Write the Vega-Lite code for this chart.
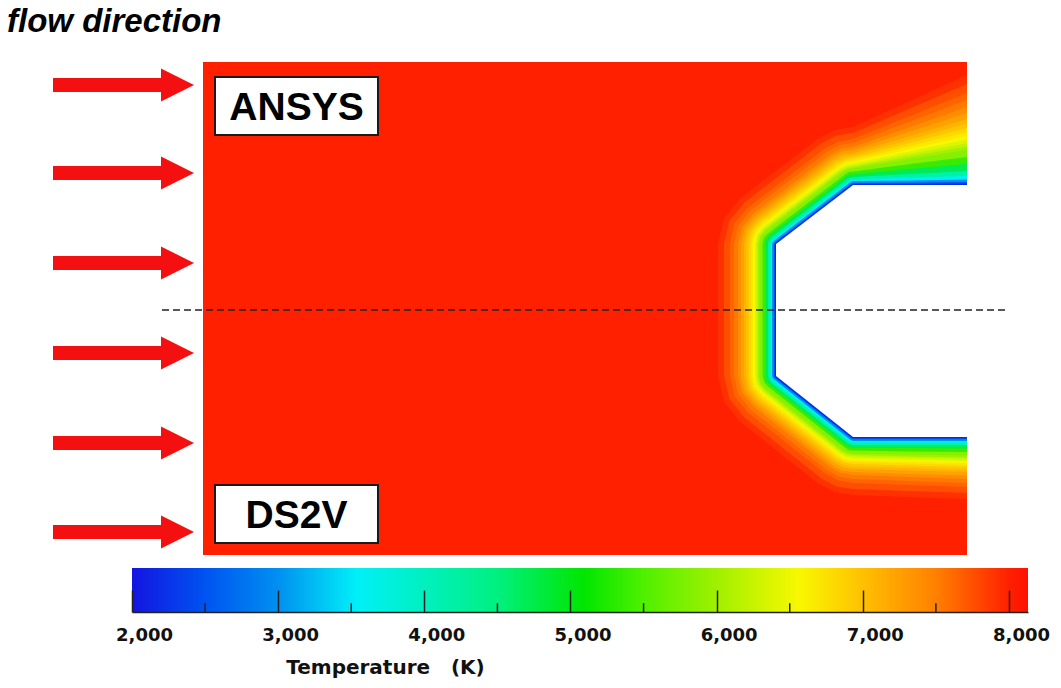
{
  "$schema": "https://vega.github.io/schema/vega-lite/v6.json",
  "width": 764,
  "height": 493,
  "autosize": {"type": "none"},
  "padding": {"left": 203, "top": 62, "right": 94, "bottom": 133},
  "background": "white",
  "config": {"view": {"stroke": null}},
  "resolve": {"scale": {"x": "independent", "y": "independent"}, "axis": {"x": "independent", "y": "independent"}},
  "layer": [
    {
      "layer": [
        {
          "data": {"values": [{"T": 8000}]},
          "mark": {"type": "rect"},
          "encoding": {
            "x": {"datum": 0, "type": "quantitative", "scale": {"domain": [0, 152.8], "nice": false, "zero": false}, "axis": null},
            "x2": {"datum": 152.8},
            "y": {"datum": -49, "type": "quantitative", "scale": {"domain": [-49, 49.6], "nice": false, "zero": false}, "axis": null},
            "y2": {"datum": 49.6},
            "color": {
              "field": "T", "type": "quantitative", "legend": null,
              "scale": {
                "domain": [2000, 2470, 3000, 3540, 4000, 4500, 5090, 5500, 6000, 6560, 7000, 7500, 8000, 8130],
                "range": ["#1414e0", "#0050f0", "#0090f0", "#00f0f8", "#00f0c0", "#00f080", "#00e600", "#50f000", "#a0f000", "#f8f800", "#ffc000", "#ff8000", "#ff2000", "#ff1000"]
              }
            }
          }
        },
        {
          "data": {"values": [
            {"T":7950,"x":152.8,"y":47},{"T":7950,"x":141.4,"y":41.8},{"T":7950,"x":130,"y":36.6},{"T":7950,"x":126.3,"y":36.0},{"T":7950,"x":122.9,"y":34.2},{"T":7950,"x":107.5,"y":22.4},{"T":7950,"x":104.2,"y":18.3},{"T":7950,"x":103,"y":13.2},{"T":7950,"x":103,"y":-13.2},{"T":7950,"x":104.2,"y":-18.3},{"T":7950,"x":107.5,"y":-22.4},{"T":7950,"x":122.9,"y":-34.6},{"T":7950,"x":126.3,"y":-36.4},{"T":7950,"x":130,"y":-37},{"T":7950,"x":141.4,"y":-37.4},{"T":7950,"x":152.8,"y":-37.8},
            {"T":7825,"x":152.8,"y":45.2},{"T":7825,"x":141.4,"y":40.3},{"T":7825,"x":130,"y":35.4},{"T":7825,"x":126.7,"y":34.9},{"T":7825,"x":123.7,"y":33.3},{"T":7825,"x":108.3,"y":21.5},{"T":7825,"x":105.3,"y":17.8},{"T":7825,"x":104.2,"y":13.2},{"T":7825,"x":104.2,"y":-13.2},{"T":7825,"x":105.3,"y":-17.8},{"T":7825,"x":108.3,"y":-21.5},{"T":7825,"x":123.7,"y":-33.7},{"T":7825,"x":126.7,"y":-35.3},{"T":7825,"x":130,"y":-35.8},{"T":7825,"x":141.4,"y":-36.2},{"T":7825,"x":152.8,"y":-36.6},
            {"T":7700,"x":152.8,"y":43.4},{"T":7700,"x":141.4,"y":38.8},{"T":7700,"x":130,"y":34.2},{"T":7700,"x":127.1,"y":33.7},{"T":7700,"x":124.4,"y":32.3},{"T":7700,"x":109.0,"y":20.5},{"T":7700,"x":106.3,"y":17.3},{"T":7700,"x":105.4,"y":13.2},{"T":7700,"x":105.4,"y":-13.2},{"T":7700,"x":106.3,"y":-17.3},{"T":7700,"x":109.0,"y":-20.5},{"T":7700,"x":124.4,"y":-32.7},{"T":7700,"x":127.1,"y":-34.1},{"T":7700,"x":130,"y":-34.6},{"T":7700,"x":141.4,"y":-35.0},{"T":7700,"x":152.8,"y":-35.4},
            {"T":7550,"x":152.8,"y":42.0},{"T":7550,"x":141.4,"y":37.7},{"T":7550,"x":130,"y":33.4},{"T":7550,"x":127.4,"y":33.0},{"T":7550,"x":124.9,"y":31.7},{"T":7550,"x":109.5,"y":19.9},{"T":7550,"x":107.1,"y":16.9},{"T":7550,"x":106.2,"y":13.2},{"T":7550,"x":106.2,"y":-13.2},{"T":7550,"x":107.1,"y":-16.9},{"T":7550,"x":109.5,"y":-19.9},{"T":7550,"x":124.9,"y":-32.1},{"T":7550,"x":127.4,"y":-33.4},{"T":7550,"x":130,"y":-33.8},{"T":7550,"x":141.4,"y":-34.2},{"T":7550,"x":152.8,"y":-34.6},
            {"T":7400,"x":152.8,"y":40.6},{"T":7400,"x":141.4,"y":36.6},{"T":7400,"x":130,"y":32.6},{"T":7400,"x":127.6,"y":32.2},{"T":7400,"x":125.4,"y":31.0},{"T":7400,"x":110.0,"y":19.2},{"T":7400,"x":107.8,"y":16.5},{"T":7400,"x":107.0,"y":13.2},{"T":7400,"x":107.0,"y":-13.2},{"T":7400,"x":107.8,"y":-16.5},{"T":7400,"x":110.0,"y":-19.2},{"T":7400,"x":125.4,"y":-31.4},{"T":7400,"x":127.6,"y":-32.6},{"T":7400,"x":130,"y":-33.0},{"T":7400,"x":141.4,"y":-33.4},{"T":7400,"x":152.8,"y":-33.8},
            {"T":7250,"x":152.8,"y":39.4},{"T":7250,"x":141.4,"y":35.7},{"T":7250,"x":130,"y":32.0},{"T":7250,"x":127.8,"y":31.7},{"T":7250,"x":125.8,"y":30.6},{"T":7250,"x":110.4,"y":18.8},{"T":7250,"x":108.3,"y":16.3},{"T":7250,"x":107.6,"y":13.2},{"T":7250,"x":107.6,"y":-13.2},{"T":7250,"x":108.3,"y":-16.3},{"T":7250,"x":110.4,"y":-18.8},{"T":7250,"x":125.8,"y":-31.0},{"T":7250,"x":127.8,"y":-32.1},{"T":7250,"x":130,"y":-32.4},{"T":7250,"x":141.4,"y":-32.8},{"T":7250,"x":152.8,"y":-33.1},
            {"T":7100,"x":152.8,"y":38.2},{"T":7100,"x":141.4,"y":34.8},{"T":7100,"x":130,"y":31.4},{"T":7100,"x":128.0,"y":31.1},{"T":7100,"x":126.1,"y":30.1},{"T":7100,"x":110.7,"y":18.3},{"T":7100,"x":108.8,"y":16.0},{"T":7100,"x":108.2,"y":13.2},{"T":7100,"x":108.2,"y":-13.2},{"T":7100,"x":108.8,"y":-16.0},{"T":7100,"x":110.7,"y":-18.3},{"T":7100,"x":126.1,"y":-30.5},{"T":7100,"x":128.0,"y":-31.5},{"T":7100,"x":130,"y":-31.8},{"T":7100,"x":141.4,"y":-32.1},{"T":7100,"x":152.8,"y":-32.4},
            {"T":6950,"x":152.8,"y":37.3},{"T":6950,"x":141.4,"y":34.1},{"T":6950,"x":130,"y":30.9},{"T":6950,"x":128.2,"y":30.6},{"T":6950,"x":126.4,"y":29.7},{"T":6950,"x":111.0,"y":17.9},{"T":6950,"x":109.3,"y":15.8},{"T":6950,"x":108.7,"y":13.2},{"T":6950,"x":108.7,"y":-13.2},{"T":6950,"x":109.3,"y":-15.8},{"T":6950,"x":111.0,"y":-17.9},{"T":6950,"x":126.4,"y":-30.1},{"T":6950,"x":128.2,"y":-31.0},{"T":6950,"x":130,"y":-31.3},{"T":6950,"x":141.4,"y":-31.6},{"T":6950,"x":152.8,"y":-31.9},
            {"T":6800,"x":152.8,"y":36.4},{"T":6800,"x":141.4,"y":33.4},{"T":6800,"x":130,"y":30.4},{"T":6800,"x":128.3,"y":30.1},{"T":6800,"x":126.7,"y":29.3},{"T":6800,"x":111.3,"y":17.5},{"T":6800,"x":109.7,"y":15.6},{"T":6800,"x":109.2,"y":13.2},{"T":6800,"x":109.2,"y":-13.2},{"T":6800,"x":109.7,"y":-15.6},{"T":6800,"x":111.3,"y":-17.5},{"T":6800,"x":126.7,"y":-29.7},{"T":6800,"x":128.3,"y":-30.5},{"T":6800,"x":130,"y":-30.8},{"T":6800,"x":141.4,"y":-31.1},{"T":6800,"x":152.8,"y":-31.4},
            {"T":6675,"x":152.8,"y":35.6},{"T":6675,"x":141.4,"y":32.8},{"T":6675,"x":130,"y":30.0},{"T":6675,"x":128.4,"y":29.8},{"T":6675,"x":127.0,"y":29.0},{"T":6675,"x":111.6,"y":17.2},{"T":6675,"x":110.1,"y":15.4},{"T":6675,"x":109.6,"y":13.2},{"T":6675,"x":109.6,"y":-13.2},{"T":6675,"x":110.1,"y":-15.4},{"T":6675,"x":111.6,"y":-17.2},{"T":6675,"x":127.0,"y":-29.4},{"T":6675,"x":128.4,"y":-30.2},{"T":6675,"x":130,"y":-30.4},{"T":6675,"x":141.4,"y":-30.7},{"T":6675,"x":152.8,"y":-31.0},
            {"T":6550,"x":152.8,"y":34.8},{"T":6550,"x":141.4,"y":32.2},{"T":6550,"x":130,"y":29.6},{"T":6550,"x":128.5,"y":29.4},{"T":6550,"x":127.2,"y":28.6},{"T":6550,"x":111.8,"y":16.8},{"T":6550,"x":110.5,"y":15.2},{"T":6550,"x":110.0,"y":13.2},{"T":6550,"x":110.0,"y":-13.2},{"T":6550,"x":110.5,"y":-15.2},{"T":6550,"x":111.8,"y":-16.8},{"T":6550,"x":127.2,"y":-29.0},{"T":6550,"x":128.5,"y":-29.8},{"T":6550,"x":130,"y":-30.0},{"T":6550,"x":141.4,"y":-30.3},{"T":6550,"x":152.8,"y":-30.6},
            {"T":6375,"x":152.8,"y":34.1},{"T":6375,"x":141.4,"y":31.7},{"T":6375,"x":130,"y":29.3},{"T":6375,"x":128.7,"y":29.1},{"T":6375,"x":127.4,"y":28.4},{"T":6375,"x":112.0,"y":16.6},{"T":6375,"x":110.8,"y":15.1},{"T":6375,"x":110.4,"y":13.2},{"T":6375,"x":110.4,"y":-13.2},{"T":6375,"x":110.8,"y":-15.1},{"T":6375,"x":112.0,"y":-16.6},{"T":6375,"x":127.4,"y":-28.8},{"T":6375,"x":128.7,"y":-29.5},{"T":6375,"x":130,"y":-29.7},{"T":6375,"x":141.4,"y":-30.0},{"T":6375,"x":152.8,"y":-30.2},
            {"T":6200,"x":152.8,"y":33.4},{"T":6200,"x":141.4,"y":31.2},{"T":6200,"x":130,"y":28.9},{"T":6200,"x":128.8,"y":28.7},{"T":6200,"x":127.6,"y":28.1},{"T":6200,"x":112.2,"y":16.3},{"T":6200,"x":111.1,"y":14.9},{"T":6200,"x":110.7,"y":13.2},{"T":6200,"x":110.7,"y":-13.2},{"T":6200,"x":111.1,"y":-14.9},{"T":6200,"x":112.2,"y":-16.3},{"T":6200,"x":127.6,"y":-28.5},{"T":6200,"x":128.8,"y":-29.1},{"T":6200,"x":130,"y":-29.3},{"T":6200,"x":141.4,"y":-29.6},{"T":6200,"x":152.8,"y":-29.8},
            {"T":6000,"x":152.8,"y":32.7},{"T":6000,"x":141.4,"y":30.7},{"T":6000,"x":130,"y":28.6},{"T":6000,"x":128.9,"y":28.4},{"T":6000,"x":127.8,"y":27.9},{"T":6000,"x":112.4,"y":16.1},{"T":6000,"x":111.4,"y":14.8},{"T":6000,"x":111.0,"y":13.2},{"T":6000,"x":111.0,"y":-13.2},{"T":6000,"x":111.4,"y":-14.8},{"T":6000,"x":112.4,"y":-16.1},{"T":6000,"x":127.8,"y":-28.3},{"T":6000,"x":128.9,"y":-28.8},{"T":6000,"x":130,"y":-29.0},{"T":6000,"x":141.4,"y":-29.3},{"T":6000,"x":152.8,"y":-29.5},
            {"T":5800,"x":152.8,"y":32.0},{"T":5800,"x":141.4,"y":30.2},{"T":5800,"x":130,"y":28.3},{"T":5800,"x":128.9,"y":28.1},{"T":5800,"x":128.0,"y":27.6},{"T":5800,"x":112.6,"y":15.8},{"T":5800,"x":111.6,"y":14.7},{"T":5800,"x":111.3,"y":13.2},{"T":5800,"x":111.3,"y":-13.2},{"T":5800,"x":111.6,"y":-14.7},{"T":5800,"x":112.6,"y":-15.8},{"T":5800,"x":128.0,"y":-28.0},{"T":5800,"x":128.9,"y":-28.5},{"T":5800,"x":130,"y":-28.7},{"T":5800,"x":141.4,"y":-28.9},{"T":5800,"x":152.8,"y":-29.1},
            {"T":5300,"x":152.8,"y":30.6},{"T":5300,"x":141.4,"y":29.2},{"T":5300,"x":130,"y":27.7},{"T":5300,"x":129.1,"y":27.6},{"T":5300,"x":128.4,"y":27.1},{"T":5300,"x":113.0,"y":15.3},{"T":5300,"x":112.2,"y":14.4},{"T":5300,"x":111.9,"y":13.2},{"T":5300,"x":111.9,"y":-13.2},{"T":5300,"x":112.2,"y":-14.4},{"T":5300,"x":113.0,"y":-15.3},{"T":5300,"x":128.4,"y":-27.5},{"T":5300,"x":129.1,"y":-28.0},{"T":5300,"x":130,"y":-28.1},{"T":5300,"x":141.4,"y":-28.3},{"T":5300,"x":152.8,"y":-28.4},
            {"T":4800,"x":152.8,"y":29.2},{"T":4800,"x":141.4,"y":28.2},{"T":4800,"x":130,"y":27.1},{"T":4800,"x":129.3,"y":27.0},{"T":4800,"x":128.7,"y":26.7},{"T":4800,"x":113.3,"y":14.9},{"T":4800,"x":112.7,"y":14.1},{"T":4800,"x":112.5,"y":13.2},{"T":4800,"x":112.5,"y":-13.2},{"T":4800,"x":112.7,"y":-14.1},{"T":4800,"x":113.3,"y":-14.9},{"T":4800,"x":128.7,"y":-27.1},{"T":4800,"x":129.3,"y":-27.4},{"T":4800,"x":130,"y":-27.5},{"T":4800,"x":141.4,"y":-27.6},{"T":4800,"x":152.8,"y":-27.7},
            {"T":4200,"x":152.8,"y":27.8},{"T":4200,"x":141.4,"y":27.2},{"T":4200,"x":130,"y":26.6},{"T":4200,"x":129.5,"y":26.5},{"T":4200,"x":129.0,"y":26.3},{"T":4200,"x":113.6,"y":14.5},{"T":4200,"x":113.2,"y":13.9},{"T":4200,"x":113.0,"y":13.2},{"T":4200,"x":113.0,"y":-13.2},{"T":4200,"x":113.2,"y":-13.9},{"T":4200,"x":113.6,"y":-14.5},{"T":4200,"x":129.0,"y":-26.7},{"T":4200,"x":129.5,"y":-26.9},{"T":4200,"x":130,"y":-27.0},
            {"T":3600,"x":152.8,"y":26.8},{"T":3600,"x":141.4,"y":26.5},{"T":3600,"x":130,"y":26.1},{"T":3600,"x":129.6,"y":26.0},{"T":3600,"x":129.3,"y":25.9},{"T":3600,"x":113.9,"y":14.1},{"T":3600,"x":113.6,"y":13.7},{"T":3600,"x":113.5,"y":13.2},{"T":3600,"x":113.5,"y":-13.2},{"T":3600,"x":113.6,"y":-13.7},{"T":3600,"x":113.9,"y":-14.1},{"T":3600,"x":129.3,"y":-26.3},{"T":3600,"x":129.6,"y":-26.4},{"T":3600,"x":130,"y":-26.5},
            {"T":3000,"x":152.8,"y":26.1},{"T":3000,"x":141.4,"y":25.9},{"T":3000,"x":130,"y":25.8},{"T":3000,"x":129.8,"y":25.7},{"T":3000,"x":129.5,"y":25.6},{"T":3000,"x":114.1,"y":13.8},{"T":3000,"x":113.9,"y":13.5},{"T":3000,"x":113.8,"y":13.2},{"T":3000,"x":113.8,"y":-13.2},{"T":3000,"x":113.9,"y":-13.5},{"T":3000,"x":114.1,"y":-13.8},{"T":3000,"x":129.5,"y":-26.0},{"T":3000,"x":129.8,"y":-26.1},{"T":3000,"x":130,"y":-26.2},
            {"T":2500,"x":152.8,"y":25.6},{"T":2500,"x":141.4,"y":25.52},{"T":2500,"x":130,"y":25.44},{"T":2500,"x":129.86,"y":25.42},{"T":2500,"x":129.73,"y":25.35},{"T":2500,"x":114.33,"y":13.55},{"T":2500,"x":114.2,"y":13.39},{"T":2500,"x":114.16,"y":13.2},{"T":2500,"x":114.16,"y":-13.2},{"T":2500,"x":114.2,"y":-13.39},{"T":2500,"x":114.33,"y":-13.55},{"T":2500,"x":129.73,"y":-25.75},{"T":2500,"x":129.86,"y":-25.82},{"T":2500,"x":130,"y":-25.84},
            {"T":2150,"x":152.8,"y":25.3},{"T":2150,"x":141.4,"y":25.27},{"T":2150,"x":130,"y":25.24},{"T":2150,"x":129.92,"y":25.23},{"T":2150,"x":129.85,"y":25.19},{"T":2150,"x":114.45,"y":13.39},{"T":2150,"x":114.38,"y":13.31},{"T":2150,"x":114.36,"y":13.2},{"T":2150,"x":114.36,"y":-13.2},{"T":2150,"x":114.38,"y":-13.31},{"T":2150,"x":114.45,"y":-13.39},{"T":2150,"x":129.85,"y":-25.59},{"T":2150,"x":129.92,"y":-25.63},{"T":2150,"x":130,"y":-25.64}
          ]},
          "mark": {"type": "area", "orient": "horizontal", "interpolate": "linear"},
          "encoding": {
            "y": {"field": "y", "type": "quantitative"},
            "x": {"field": "x", "type": "quantitative"},
            "x2": {"datum": 152.8},
            "color": {"field": "T", "type": "quantitative", "legend": null},
            "detail": {"field": "T", "type": "nominal"}
          }
        },
        {
          "data": {"values": [{"x": 130, "y": 25}, {"x": 114.6, "y": 13.2}, {"x": 114.6, "y": -13.2}, {"x": 130, "y": -25.4}]},
          "mark": {"type": "area", "orient": "horizontal", "interpolate": "linear", "fill": "#ffffff"},
          "encoding": {
            "y": {"field": "y", "type": "quantitative"},
            "x": {"field": "x", "type": "quantitative"},
            "x2": {"datum": 152.8}
          }
        },
        {
          "data": {"values": [{"y": 45.0}, {"y": 27.4}, {"y": 9.4}, {"y": -8.6}, {"y": -26.6}, {"y": -44.4}]},
          "layer": [
            {
              "mark": {"type": "rule", "color": "#f41010", "strokeWidth": 14, "strokeCap": "butt"},
              "encoding": {
                "x": {"datum": -30, "type": "quantitative"},
                "x2": {"datum": -8.2},
                "y": {"field": "y", "type": "quantitative"}
              }
            },
            {
              "mark": {"type": "point", "shape": "M-1,-1L-1,1L1,0Z", "filled": true, "color": "#f41010", "size": 1089, "opacity": 1},
              "encoding": {
                "x": {"datum": -5.1, "type": "quantitative"},
                "y": {"field": "y", "type": "quantitative"}
              }
            }
          ]
        },
        {
          "data": {"values": [{}]},
          "mark": {"type": "rule", "color": "#222222", "strokeWidth": 1.5, "strokeDash": [7, 4]},
          "encoding": {
            "x": {"datum": -8.2, "type": "quantitative"},
            "x2": {"datum": 160.4},
            "y": {"datum": 0, "type": "quantitative"}
          }
        },
        {
          "data": {"values": [{"label": "flow direction"}]},
          "mark": {"type": "text", "font": "Liberation Sans", "fontSize": 33, "fontWeight": "bold", "fontStyle": "italic", "color": "#000000", "align": "left", "baseline": "alphabetic"},
          "encoding": {
            "x": {"datum": -39.2, "type": "quantitative"},
            "y": {"datum": 55.6, "type": "quantitative"},
            "text": {"field": "label"}
          }
        },
        {
          "data": {"values": [
            {"label": "ANSYS", "x0": 2.4, "x1": 35, "y0": 35, "y1": 46.6, "xc": 18.7, "yb": 38},
            {"label": "DS2V", "x0": 2.4, "x1": 35, "y0": -35, "y1": -46.6, "xc": 18.7, "yb": -43.6}
          ]},
          "layer": [
            {
              "mark": {"type": "rect", "fill": "#ffffff", "stroke": "#1a1a1a", "strokeWidth": 2},
              "encoding": {
                "x": {"field": "x0", "type": "quantitative"},
                "x2": {"field": "x1"},
                "y": {"field": "y0", "type": "quantitative"},
                "y2": {"field": "y1"}
              }
            },
            {
              "mark": {"type": "text", "font": "Liberation Sans", "fontSize": 39, "fontWeight": "bold", "color": "#000000", "align": "center", "baseline": "alphabetic"},
              "encoding": {
                "x": {"field": "xc", "type": "quantitative"},
                "y": {"field": "yb", "type": "quantitative"},
                "text": {"field": "label"}
              }
            }
          ]
        }
      ]
    },
    {
      "layer": [
        {
          "data": {"values": [{"t0": 2000, "t1": 8130}]},
          "mark": {
            "type": "rect",
            "fill": {
              "gradient": "linear", "x1": 0, "y1": 0, "x2": 1, "y2": 0,
              "stops": [
                {"offset": 0, "color": "#1414e0"},
                {"offset": 0.0767, "color": "#0050f0"},
                {"offset": 0.1631, "color": "#0090f0"},
                {"offset": 0.2512, "color": "#00f0f8"},
                {"offset": 0.3263, "color": "#00f0c0"},
                {"offset": 0.4078, "color": "#00f080"},
                {"offset": 0.5041, "color": "#00e600"},
                {"offset": 0.571, "color": "#50f000"},
                {"offset": 0.6525, "color": "#a0f000"},
                {"offset": 0.7439, "color": "#f8f800"},
                {"offset": 0.8157, "color": "#ffc000"},
                {"offset": 0.8972, "color": "#ff8000"},
                {"offset": 0.9788, "color": "#ff2000"},
                {"offset": 1, "color": "#ff1000"}
              ]
            }
          },
          "encoding": {
            "x": {
              "field": "t0", "type": "quantitative",
              "scale": {"domain": [2000, 8130], "range": [-71, 825], "nice": false, "zero": false},
              "axis": {
                "orient": "bottom", "offset": 57, "grid": false, "zindex": 1,
                "values": [2000, 3000, 4000, 5000, 6000, 7000, 8000],
                "format": ",.0f",
                "tickSize": -22, "tickColor": "#222222", "tickWidth": 1.5,
                "domainColor": "#222222", "domainWidth": 1.5,
                "labelFont": "DejaVu Sans", "labelFontWeight": "bold", "labelFontSize": 18, "labelColor": "#111111",
                "labelPadding": 36, "labelOffset": 12, "labelFlush": false, "labelOverlap": false,
                "title": "Temperature\u00a0\u00a0 (K)",
                "titleFont": "DejaVu Sans", "titleFontSize": 20, "titleFontWeight": "bold", "titleColor": "#111111",
                "titleX": 182, "titleY": 61, "titleAlign": "center", "titleBaseline": "alphabetic", "titleAnchor": null
              }
            },
            "x2": {"field": "t1"},
            "y": {"datum": 0, "type": "quantitative", "scale": {"domain": [0, 1], "range": [550, 506], "nice": false, "zero": false}, "axis": null},
            "y2": {"datum": 1}
          }
        },
        {
          "data": {"values": [{"t": 2500}, {"t": 3500}, {"t": 4500}, {"t": 5500}, {"t": 6500}, {"t": 7500}]},
          "mark": {"type": "rule", "color": "#222222", "strokeWidth": 1.5},
          "encoding": {
            "x": {"field": "t", "type": "quantitative"},
            "y": {"datum": 0, "type": "quantitative"},
            "y2": {"datum": 0.2}
          }
        }
      ]
    }
  ]
}
